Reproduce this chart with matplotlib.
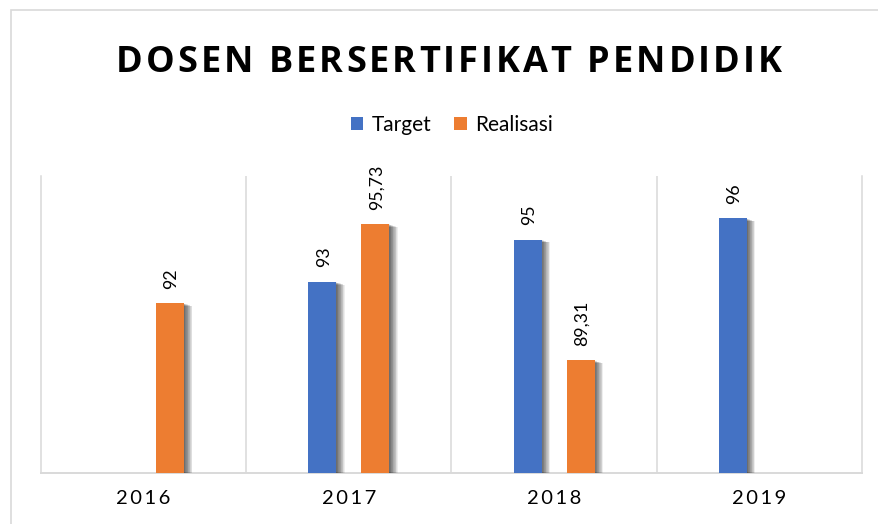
import numpy as np
import matplotlib
matplotlib.use("Agg")
import matplotlib.pyplot as plt
from matplotlib import patheffects as pe
from matplotlib.patches import Rectangle

# ---- data ----
years = ["2016", "2017", "2018", "2019"]
target = [np.nan, 93, 95, 96]
realisasi = [92, 95.73, 89.31, np.nan]
series_names = ["Target", "Realisasi"]
title = "DOSEN BERSERTIFIKAT PENDIDIK"

BLUE = "#4472C4"
ORANGE = "#ED7D31"
GRID = "#D9D9D9"

W, H = 879, 524
fig = plt.figure(figsize=(W / 100, H / 100), dpi=100)
fig.patch.set_facecolor("white")

# chart border
fig.patches.append(Rectangle((11 / W, -0.1), 1.2, 1.1 - 10 / H, transform=fig.transFigure,
                             fill=False, edgecolor=GRID, lw=1.2))

ax = fig.add_axes([41 / W, (H - 473) / H, (862 - 41) / W, (473 - 176) / H])
ax.set_ylim(84, 98)
ax.set_xlim(-0.5, len(years) - 0.5)

x = np.arange(len(years))
bw = 0.136
off = 0.129

def shadow_effects():
    effs = []
    for k in range(1, 13):
        effs.append(pe.SimplePatchShadow(offset=(k * 0.5, -k * 0.17), shadow_rgbFace="black", alpha=0.065))
    effs.append(pe.Normal())
    return effs

b1 = ax.bar(x - off, target, bw, color=BLUE, label=series_names[0], zorder=3)
b2 = ax.bar(x + off, realisasi, bw, color=ORANGE, label=series_names[1], zorder=3)
for bars in (b1, b2):
    for p in bars:
        p.set_path_effects(shadow_effects())

def fmt(v):
    s = ("%.2f" % v).rstrip("0").rstrip(".")
    return s.replace(".", ",")

for xs, vals in ((x - off, target), (x + off, realisasi)):
    for xi, v in zip(xs, vals):
        if np.isnan(v):
            continue
        ax.annotate(fmt(v), (xi, v), xytext=(1, 10.5), textcoords="offset points",
                    rotation=90, ha="center", va="bottom", fontsize=12.8,
                    family=["Lato", "DejaVu Sans"], color="#000000")

# axes styling
ax.set_yticks([])
ax.set_xticks(x)
ax.set_xticklabels(["\u2009".join(list(y)) for y in years], family=["Lato", "DejaVu Sans"],
                   fontsize=14.5, color="#000000")
ax.tick_params(axis="x", length=0, pad=12)
ax.set_xticks(np.arange(0.5, len(years) - 1, 1.0), minor=True)
ax.tick_params(axis="x", which="minor", length=0)
ax.grid(True, axis="x", which="minor", color=GRID, lw=1.1, zorder=0)
ax.spines["top"].set_visible(False)
for s in ("left", "right"):
    ax.spines[s].set_color(GRID)
    ax.spines[s].set_linewidth(1.1)
ax.spines["bottom"].set_color(GRID)
ax.spines["bottom"].set_linewidth(1.4)

# legend
leg = fig.legend(handles=[b1, b2], labels=series_names, loc="center",
                 bbox_to_anchor=(452 / W, 1 - 125 / H), ncol=2, frameon=False,
                 prop={"family": ["Lato", "DejaVu Sans"], "size": 15},
                 handlelength=0.6, handleheight=0.6, handletextpad=0.4, columnspacing=1.1)
for h in leg.legend_handles:
    h.set_path_effects([])

# spaced title
def spaced_text(s, cx_px, base_px, target_w, **kw):
    r = fig.canvas.get_renderer()
    def w(t):
        tt = fig.text(0, 0, t, **kw)
        bb = tt.get_window_extent(r)
        tt.remove()
        return bb.width
    base = w("HH")
    adv = [w("H" + c + "H") - base for c in s]
    spacing = (target_w - sum(adv)) / (len(s) - 1)
    total = sum(adv) + spacing * (len(s) - 1)
    pen = cx_px - total / 2
    for c, a in zip(s, adv):
        if c != " ":
            fig.text((pen + a / 2) / W, 1 - base_px / H, c, ha="center", va="baseline", **kw)
        pen += a + spacing

spaced_text(title, 449, 72, 666, family=["Open Sans", "DejaVu Sans"], weight="bold",
            fontsize=26, color="#000000")

fig.savefig("out.png", dpi=100, facecolor="white")
